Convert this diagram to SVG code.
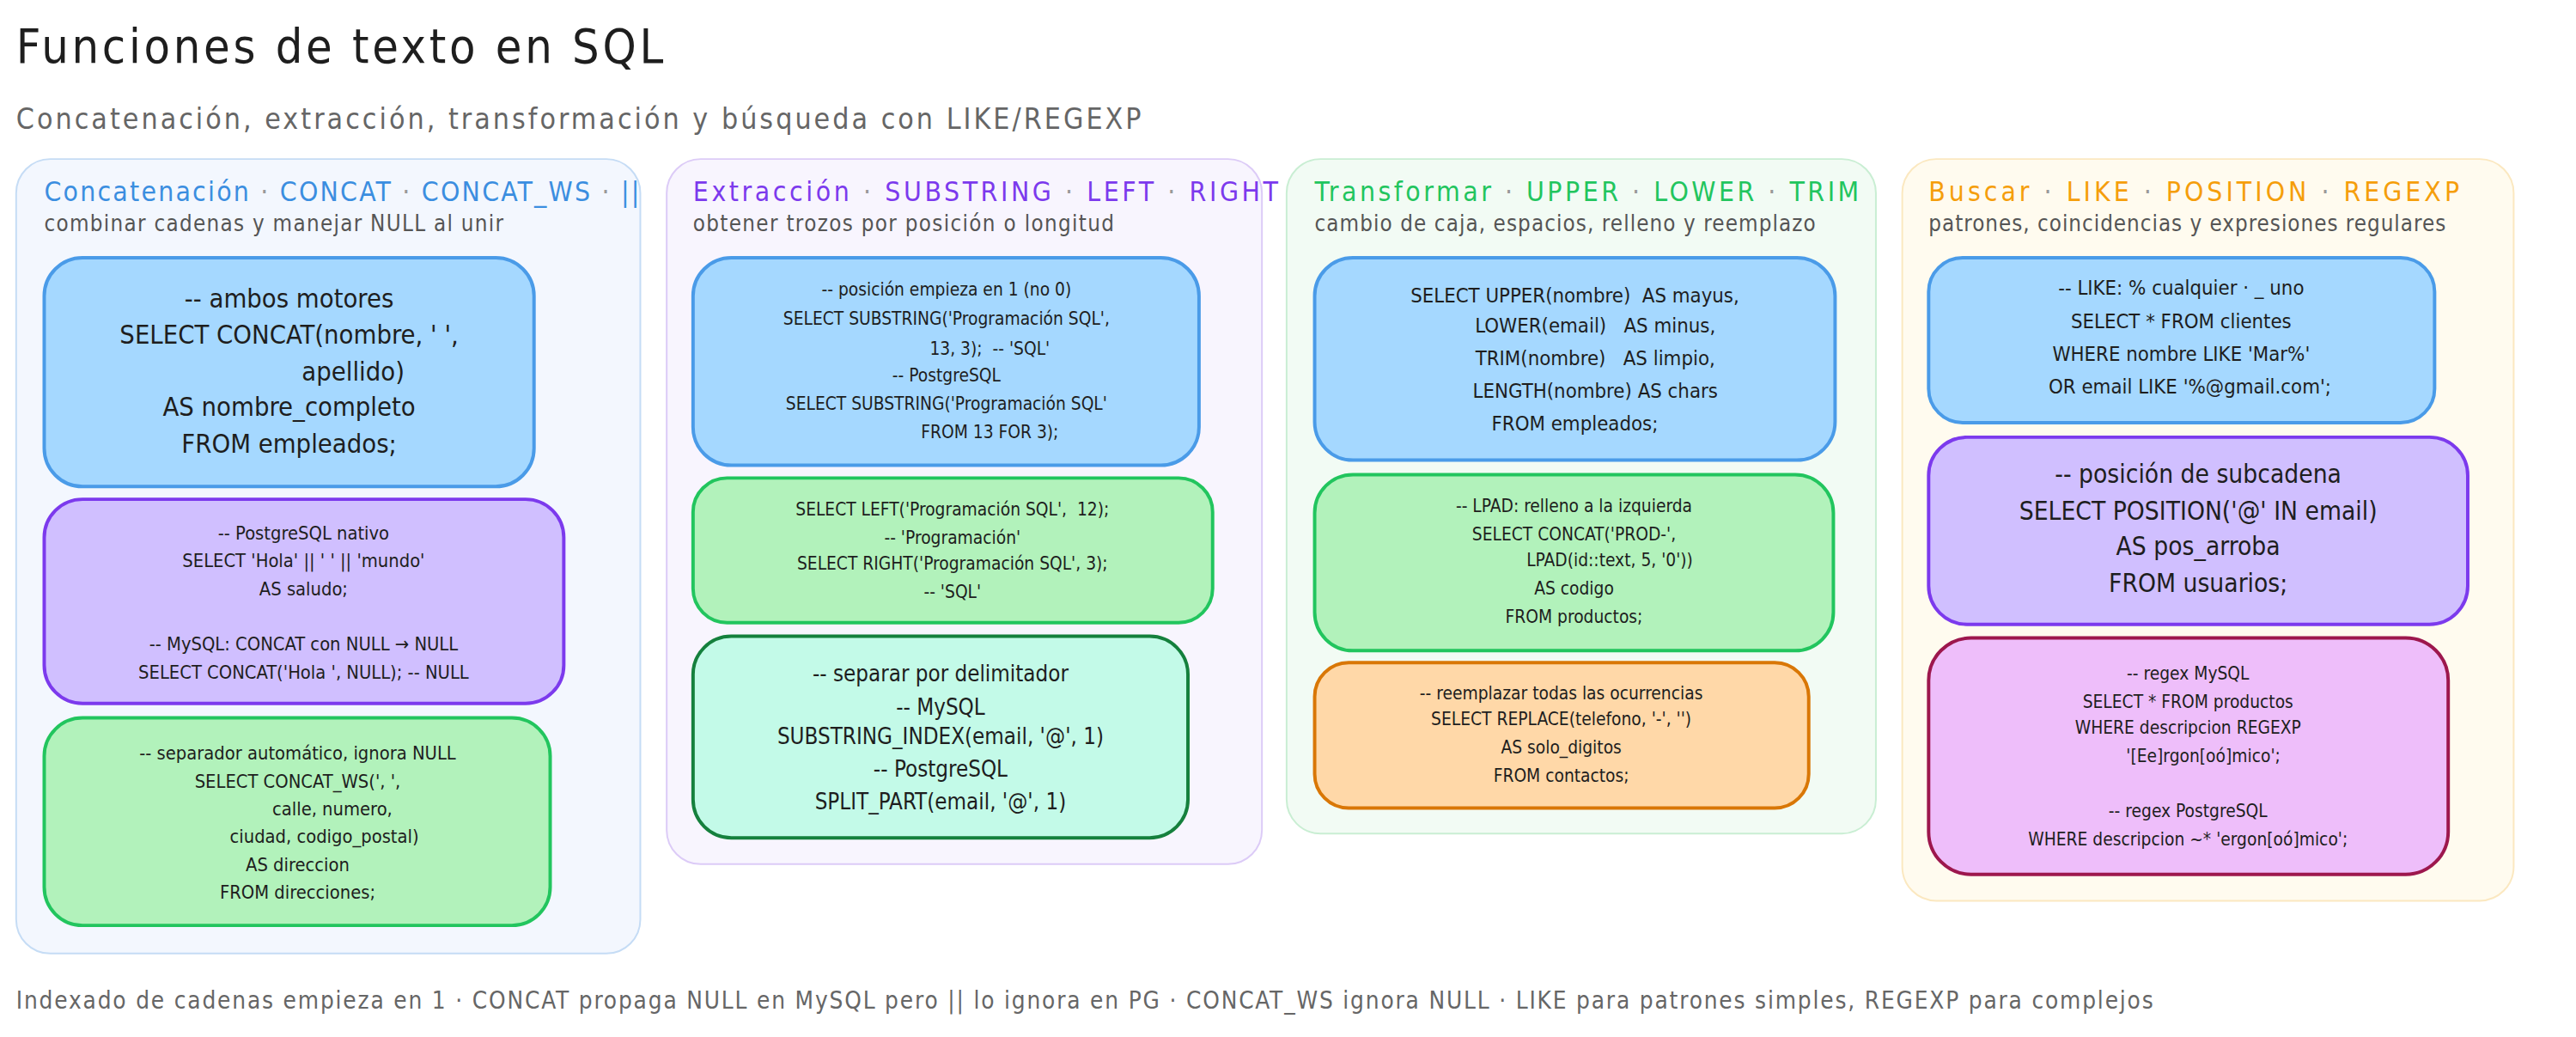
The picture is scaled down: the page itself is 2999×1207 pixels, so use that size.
<svg xmlns="http://www.w3.org/2000/svg" width="2999" height="1207" viewBox="0 0 2999 1207">
<style>
text{font-family:"Liberation Sans Narrow","DejaVu Sans Condensed","Liberation Sans",sans-serif;fill:#1e1e1e;white-space:pre}
.c{text-anchor:middle}
.pt{font-size:32px}
.ps{font-size:26px;fill:#555}
.dot{fill:#999}
.card{stroke-width:4}
.blue{fill:#a5d8ff;stroke:#4a9be8}
.purple{fill:#d0bfff;stroke:#7c3aed}
.green{fill:#b2f2bb;stroke:#22c55e}
.mint{fill:#c3fae8;stroke:#15803d}
.orange{fill:#ffd8a8;stroke:#d97706}
.pink{fill:#eebefa;stroke:#9d174d}
</style>
<rect width="2999" height="1207" fill="#ffffff"/>
<g transform="scale(0.99)">
<text x="19" y="74" style="font-size:56px" textLength="761" lengthAdjust="spacing">Funciones de texto en SQL</text>
<text x="19" y="152" style="font-size:34px;fill:#666" textLength="1323" lengthAdjust="spacing">Concatenación, extracción, transformación y búsqueda con LIKE/REGEXP</text>
<g id="connectors"></g>

<g id="panel-concat">
<rect x="19" y="187" width="734" height="934" rx="40" fill="#f3f7fe" stroke="#c5dcf5" stroke-width="2"/>
<text x="52" y="236" class="pt" style="fill:#3b8ee0" textLength="700" lengthAdjust="spacing">Concatenación <tspan class="dot">·</tspan> CONCAT <tspan class="dot">·</tspan> CONCAT_WS <tspan class="dot">·</tspan> ||</text>
<text x="52" y="272" class="ps" textLength="540" lengthAdjust="spacing">combinar cadenas y manejar NULL al unir</text>
</g>
<g id="card-concat-1">
<rect x="52" y="303" width="576" height="269" rx="45" class="card blue"/>
<text class="c" style="font-size:31px"><tspan x="340" y="362">-- ambos motores</tspan><tspan x="340" y="404">SELECT CONCAT(nombre, ' ',</tspan><tspan x="340" y="447">                 apellido)</tspan><tspan x="340" y="489">AS nombre_completo</tspan><tspan x="340" y="532">FROM empleados;</tspan></text>
</g>
<g id="card-concat-2">
<rect x="52" y="587" width="611" height="240" rx="45" class="card purple"/>
<text class="c" style="font-size:22px"><tspan x="357" y="634">-- PostgreSQL nativo</tspan><tspan x="357" y="667">SELECT 'Hola' || ' ' || 'mundo'</tspan><tspan x="357" y="700">AS saludo;</tspan><tspan x="357" y="765">-- MySQL: CONCAT con NULL → NULL</tspan><tspan x="357" y="798">SELECT CONCAT('Hola ', NULL); -- NULL</tspan></text>
</g>
<g id="card-concat-3">
<rect x="52" y="844" width="595" height="244" rx="45" class="card green"/>
<text class="c" style="font-size:22px"><tspan x="350" y="893">-- separador automático, ignora NULL</tspan><tspan x="350" y="926">SELECT CONCAT_WS(', ',</tspan><tspan x="350" y="959">             calle, numero,</tspan><tspan x="350" y="991">          ciudad, codigo_postal)</tspan><tspan x="350" y="1024">AS direccion</tspan><tspan x="350" y="1057">FROM direcciones;</tspan></text>
</g>

<g id="panel-extract">
<rect x="784" y="187" width="700" height="829" rx="40" fill="#f8f5fe" stroke="#dccbf7" stroke-width="2"/>
<text x="815" y="236" class="pt" style="fill:#7c3aed" textLength="688" lengthAdjust="spacing">Extracción <tspan class="dot">·</tspan> SUBSTRING <tspan class="dot">·</tspan> LEFT <tspan class="dot">·</tspan> RIGHT</text>
<text x="815" y="272" class="ps" textLength="495" lengthAdjust="spacing">obtener trozos por posición o longitud</text>
</g>
<g id="card-extract-1">
<rect x="815" y="303" width="595" height="244" rx="45" class="card blue"/>
<text class="c" style="font-size:21px"><tspan x="1113" y="347">-- posición empieza en 1 (no 0)</tspan><tspan x="1113" y="382">SELECT SUBSTRING('Programación SQL',</tspan><tspan x="1113" y="417">                 13, 3);  -- 'SQL'</tspan><tspan x="1113" y="449">-- PostgreSQL</tspan><tspan x="1113" y="482">SELECT SUBSTRING('Programación SQL'</tspan><tspan x="1113" y="515">                 FROM 13 FOR 3);</tspan></text>
</g>
<g id="card-extract-2">
<rect x="815" y="562" width="611" height="170" rx="40" class="card green"/>
<text class="c" style="font-size:21px"><tspan x="1120" y="606">SELECT LEFT('Programación SQL',  12);</tspan><tspan x="1120" y="639">-- 'Programación'</tspan><tspan x="1120" y="670">SELECT RIGHT('Programación SQL', 3);</tspan><tspan x="1120" y="703">-- 'SQL'</tspan></text>
</g>
<g id="card-extract-3">
<rect x="815" y="748" width="582" height="237" rx="45" class="card mint"/>
<text class="c" style="font-size:26px"><tspan x="1106" y="801">-- separar por delimitador</tspan><tspan x="1106" y="840">-- MySQL</tspan><tspan x="1106" y="875">SUBSTRING_INDEX(email, '@', 1)</tspan><tspan x="1106" y="913">-- PostgreSQL</tspan><tspan x="1106" y="952">SPLIT_PART(email, '@', 1)</tspan></text>
</g>

<g id="panel-transform">
<rect x="1513" y="187" width="693" height="793" rx="40" fill="#f2fbf4" stroke="#c9eed3" stroke-width="2"/>
<text x="1546" y="236" class="pt" style="fill:#22c55e" textLength="640" lengthAdjust="spacing">Transformar <tspan class="dot">·</tspan> UPPER <tspan class="dot">·</tspan> LOWER <tspan class="dot">·</tspan> TRIM</text>
<text x="1546" y="272" class="ps" textLength="589" lengthAdjust="spacing">cambio de caja, espacios, relleno y reemplazo</text>
</g>
<g id="card-transform-1">
<rect x="1546" y="303" width="612" height="238" rx="45" class="card blue"/>
<text class="c" style="font-size:24px"><tspan x="1852" y="356">SELECT UPPER(nombre)  AS mayus,</tspan><tspan x="1852" y="391">       LOWER(email)   AS minus,</tspan><tspan x="1852" y="429">       TRIM(nombre)   AS limpio,</tspan><tspan x="1852" y="468">       LENGTH(nombre) AS chars</tspan><tspan x="1852" y="506">FROM empleados;</tspan></text>
</g>
<g id="card-transform-2">
<rect x="1546" y="558" width="610" height="207" rx="45" class="card green"/>
<text class="c" style="font-size:21px"><tspan x="1851" y="602">-- LPAD: relleno a la izquierda</tspan><tspan x="1851" y="635">SELECT CONCAT('PROD-',</tspan><tspan x="1851" y="666">              LPAD(id::text, 5, '0'))</tspan><tspan x="1851" y="699">AS codigo</tspan><tspan x="1851" y="732">FROM productos;</tspan></text>
</g>
<g id="card-transform-3">
<rect x="1546" y="779" width="581" height="171" rx="40" class="card orange"/>
<text class="c" style="font-size:21px"><tspan x="1836" y="822">-- reemplazar todas las ocurrencias</tspan><tspan x="1836" y="853">SELECT REPLACE(telefono, '-', '')</tspan><tspan x="1836" y="886">AS solo_digitos</tspan><tspan x="1836" y="919">FROM contactos;</tspan></text>
</g>

<g id="panel-search">
<rect x="2237" y="187" width="719" height="872" rx="40" fill="#fffbef" stroke="#fbe8c0" stroke-width="2"/>
<text x="2268" y="236" class="pt" style="fill:#f59e0b" textLength="624" lengthAdjust="spacing">Buscar <tspan class="dot">·</tspan> LIKE <tspan class="dot">·</tspan> POSITION <tspan class="dot">·</tspan> REGEXP</text>
<text x="2268" y="272" class="ps" textLength="608" lengthAdjust="spacing">patrones, coincidencias y expresiones regulares</text>
</g>
<g id="card-search-1">
<rect x="2268" y="303" width="595" height="194" rx="40" class="card blue"/>
<text class="c" style="font-size:24px"><tspan x="2565" y="346">-- LIKE: % cualquier · _ uno</tspan><tspan x="2565" y="386">SELECT * FROM clientes</tspan><tspan x="2565" y="424">WHERE nombre LIKE 'Mar%'</tspan><tspan x="2565" y="463">   OR email LIKE '%@gmail.com';</tspan></text>
</g>
<g id="card-search-2">
<rect x="2268" y="514" width="634" height="220" rx="45" class="card purple"/>
<text class="c" style="font-size:30px"><tspan x="2585" y="568">-- posición de subcadena</tspan><tspan x="2585" y="611">SELECT POSITION('@' IN email)</tspan><tspan x="2585" y="653">AS pos_arroba</tspan><tspan x="2585" y="696">FROM usuarios;</tspan></text>
</g>
<g id="card-search-3">
<rect x="2268" y="750" width="611" height="278" rx="50" class="card pink"/>
<text class="c" style="font-size:21px"><tspan x="2573" y="799">-- regex MySQL</tspan><tspan x="2573" y="832">SELECT * FROM productos</tspan><tspan x="2573" y="863">WHERE descripcion REGEXP</tspan><tspan x="2573" y="896">      '[Ee]rgon[oó]mico';</tspan><tspan x="2573" y="961">-- regex PostgreSQL</tspan><tspan x="2573" y="994">WHERE descripcion ~* 'ergon[oó]mico';</tspan></text>
</g>

<text x="19" y="1186" style="font-size:28px;fill:#666" textLength="2513" lengthAdjust="spacing">Indexado de cadenas empieza en 1 · CONCAT propaga NULL en MySQL pero || lo ignora en PG · CONCAT_WS ignora NULL · LIKE para patrones simples, REGEXP para complejos</text>
</g>
</svg>
